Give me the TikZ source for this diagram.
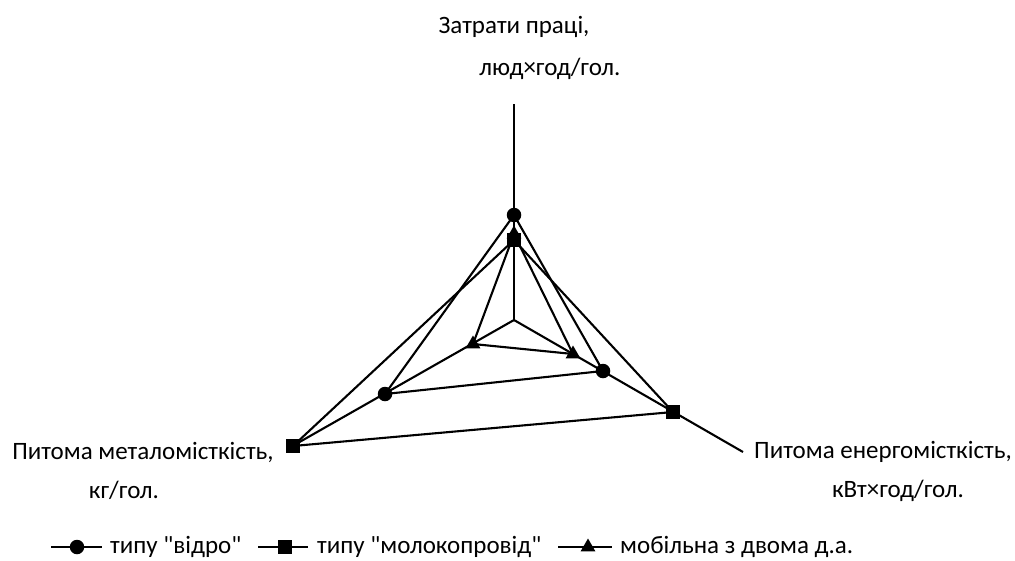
\documentclass[tikz,border=0pt]{standalone}
\usepackage{fontspec}
\setmainfont{Carlito}[Ligatures=TeXOff]
\usetikzlibrary{shapes.geometric}
\begin{document}
\begin{tikzpicture}[x=1pt,y=-1pt,
  serie/.style={line width=2.1pt, line join=round},
  axisline/.style={line width=2.1pt},
  cmark/.style={circle, fill=black, inner sep=0pt, minimum size=14.5pt},
  smark/.style={rectangle, fill=black, inner sep=0pt, minimum size=13.5pt},
  tmark/.style={regular polygon, regular polygon sides=3, fill=black, inner sep=0pt, minimum size=17pt},
  lbl/.style={font=\fontsize{25}{30}\selectfont, inner sep=0pt},
  leg/.style={font=\fontsize{25}{30}\selectfont, inner sep=0pt, anchor=west}]
\useasboundingbox (0,0) rectangle (1015,560);
% axes
\coordinate (O) at (514,320);
\coordinate (At) at (514,104);
\coordinate (Ar) at (743,452);
\coordinate (Al) at (289,448);
\draw[axisline] (O) -- (At);
\draw[axisline] (O) -- (Ar);
\draw[axisline] (O) -- (Al);
% data points
\coordinate (ct) at (514,215);
\coordinate (cr) at (603,371);
\coordinate (cl) at (385,394);
\coordinate (st) at (514,240);
\coordinate (sr) at (673,412);
\coordinate (sl) at (293,446);
\coordinate (tt) at (514,234);
\coordinate (tr) at (573,354);
\coordinate (tl) at (473,344);
\draw[serie] (ct) -- (cr) -- (cl) -- cycle;
\draw[serie] (st) -- (sr) -- (sl) -- cycle;
\draw[serie] (tt) -- (tr) -- (tl) -- cycle;
\node[tmark] (mtt) at (tt) {};
\node[tmark] (mtr) at (tr) {};
\node[tmark] (mtl) at (tl) {};
\node[smark] (mst) at (st) {};
\node[smark] (msr) at (sr) {};
\node[smark] (msl) at (sl) {};
\node[cmark] (mct) at (ct) {};
\node[cmark] (mcr) at (cr) {};
\node[cmark] (mcl) at (cl) {};
% labels
\node[lbl] (l1) at (514,27) {Затрати праці,};
\node[lbl] (l2) at (550,69) {люд×год/гол.};
\node[lbl] (l3) at (143,452) {Питома металомісткість,};
\node[lbl] (l4) at (124,490) {кг/гол.};
\node[lbl] (l5) at (883,452) {Питома енергомісткість,};
\node[lbl] (l6) at (898,491) {кВт×год/гол.};
% legend
\coordinate (g1a) at (51,547); \coordinate (g1b) at (102,547);
\draw[serie] (g1a) -- (g1b);
\node[cmark] (g1m) at (77,547) {};
\node[leg] (g1t) at (110,547) {типу "відро"};
\coordinate (g2a) at (258,547); \coordinate (g2b) at (308,547);
\draw[serie] (g2a) -- (g2b);
\node[smark] (g2m) at (285,547) {};
\node[leg] (g2t) at (317,547) {типу "молокопровід"};
\coordinate (g3a) at (558,547); \coordinate (g3b) at (612,547);
\draw[serie] (g3a) -- (g3b);
\node[tmark] (g3m) at (588,547) {};
\node[leg] (g3t) at (620,547) {мобільна з двома д.а.};
\end{tikzpicture}
\end{document}
